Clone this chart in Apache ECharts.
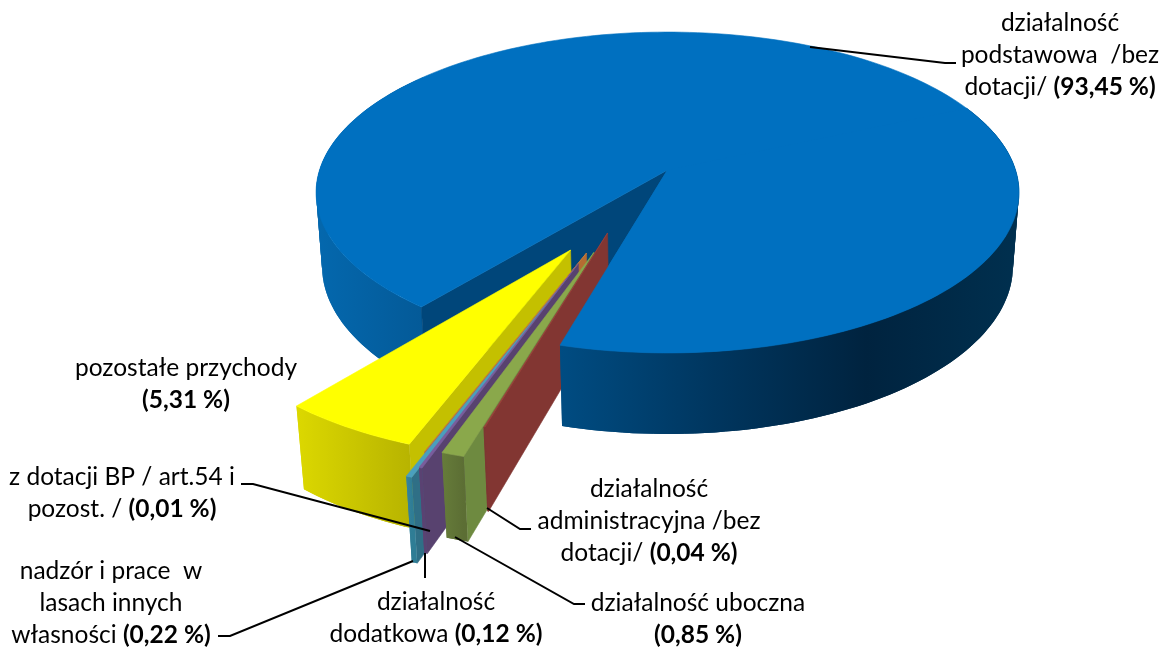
<!DOCTYPE html>
<html>
<head>
<meta charset="utf-8">
<style>html,body{margin:0;padding:0;background:#fff}#c{width:1165px;height:647px}</style>
<script src="https://cdn.jsdelivr.net/npm/echarts@6/dist/echarts.min.js"></script>
</head>
<body>
<div id="c"></div>
<script>
// ---- data (clockwise from the front cut) ----
var categories = [
  'działalność administracyjna /bez dotacji/',
  'działalność uboczna',
  'działalność dodatkowa',
  'nadzór i prace w lasach innych własności',
  'z dotacji BP / art.54 i pozost. /',
  'pozostałe przychody',
  'działalność podstawowa /bez dotacji/'
];
var shares = [0.04, 0.85, 0.12, 0.22, 0.01, 5.31, 93.45];

// ---- label text ----
var labelLines = [
  ['działalność', 'administracyjna /bez', '{n|dotacji/ }{b|(0,04 %)}'],
  ['działalność uboczna', '{b|(0,85 %)}'],
  ['działalność', 'dodatkowa {b|(0,12 %)}'],
  ['nadzór i prace  w', 'lasach innych', 'własności {b|(0,22 %)}'],
  ['z dotacji BP / art.54 i', 'pozost. / {b|(0,01 %)}'],
  ['pozostałe przychody', '{b|(5,31 %)}'],
  ['działalność', 'podstawowa  /bez', 'dotacji/ {b|(93,45 %)}']
];

// ---- layout & styling ----
var cam = {cx: 667.5, cy: 170, F: 2213, D: 6.36, sin: 0.452, cos: 0.892, h: 0.239};
var startAngle = 15.5;
var explode = [[-0.163,0.379],[-0.197,0.488],[-0.2366,0.55],[-0.249,0.589],[-0.2167,0.4915],[-0.26,0.475],[0,0]];
var radii = [0.987, 1, 1, 1, 1, 0.985, 1];
var faces = [
  {top:'#9a3f3a', wall:'#7f3532', cut:'#823632'},
  {top:'#8aa84b', wall:['#667c3a','#5c6e34'], cut:'#6e8a40'},
  {top:'#7a5c9c', wall:['#5a4272','#5a4272'], cut:'#58426f'},
  {top:'#4a9fbd', wall:['#37839d','#2f7d95'], cut:'#2f6f86'},
  {top:'#c9803c', wall:['#b8702f','#b8702f'], cut:'#b56c32'},
  {top:'#ffff00', wall:['#dcd800','#b8b400'], cut:'#c4c000'},
  {top:'#0070c0', cut:'#00467a'}
];
var labelPos = [[649,473],[698,587],[436,586],[111,555],[122,461],[186,352],[1060,7]];
var leaders = [
  [[487,508],[520,529],[531,529]],
  [[455,537],[574,604],[585,604]],
  [[425,553],[425,578]],
  [[413,561],[230,636],[218,636]],
  [[430,531],[253,484],[241,484]],
  [[810,47],[945,63],[956,63]]
];
var FONT = 'Lato, Carlito, "Open Sans", sans-serif';
var FONT_SIZE = 24.5;

// ---- geometry ----
function project(X, Y, Z) {
  var v = Y * cam.sin - Z * cam.cos, w = Y * cam.cos + Z * cam.sin;
  var s = cam.F / (cam.D - w);
  return [cam.cx + X * s, cam.cy + v * s];
}
var rad = Math.PI / 180;
var total = shares.reduce(function (a, b) { return a + b; }, 0);
var spans = [], acc = startAngle;
shares.forEach(function (v) { var d = v / total * 360; spans.push([acc, acc + d]); acc += d; });

function rim(i, a, Z) { var o = explode[i], r = radii[i]; return project(o[0] - r * Math.sin(a * rad), o[1] + r * Math.cos(a * rad), Z); }
function apex(i, Z) { var o = explode[i]; return project(o[0], o[1], Z); }
function arc(i, a1, a2, Z) {
  var n = Math.max(2, Math.ceil(Math.abs(a2 - a1) / 1.5)), pts = [];
  for (var k = 0; k <= n; k++) pts.push(rim(i, a1 + (a2 - a1) * k / n, Z));
  return pts;
}
function poly(points, fill) {
  var solid = typeof fill === 'string';
  return {type: 'polygon', shape: {points: points},
    style: {fill: fill, stroke: solid ? fill : null, lineWidth: solid ? 0.6 : 0}};
}
function grad(x1, x2, stops) {
  return {type: 'linear', x: x1, y: 0, x2: x2, y2: 0, global: true,
    colorStops: stops.map(function (c, i) { return {offset: i / (stops.length - 1), color: c}; })};
}
// Wall built from overlapping strips, so that the side silhouette stays straight and no seams show.
function wall(i, a1, a2, fill) {
  var t = arc(i, a1, a2, 0), b = arc(i, a1, a2, -cam.h), out = [], last = t.length - 1;
  for (var k = 0; k < last; k++) {
    var e = Math.min(k + 2, last), pts = [];
    for (var m = k; m <= e; m++) pts.push(t[m]);
    for (var m2 = e; m2 >= k; m2--) pts.push(b[m2]);
    out.push(poly(pts, fill));
  }
  return out;
}
function sector(i, a1, a2, fill) { return poly([apex(i, 0)].concat(arc(i, a1, a2, 0)), fill); }
function cut(i, a, fill) {
  return poly([apex(i, 0), rim(i, a, 0), rim(i, a, -cam.h), apex(i, -cam.h)], fill);
}

function drawSlice(i) {
  var a1 = spans[i][0], a2 = spans[i][1], f = faces[i];
  var wx1 = rim(i, a2, 0)[0], wx2 = rim(i, a1, 0)[0];
  var wf = Array.isArray(f.wall) ? grad(wx1, wx2, f.wall) : f.wall;
  return [cut(i, a1, f.cut)].concat(wall(i, a1, a2, wf), [sector(i, a1, a2, f.top)]);
}
var B = shares.length - 1;
function drawBlueBack() {
  var a1 = spans[B][0], a2 = spans[B][1], f = faces[B];
  return wall(B, 130, a1, grad(315, 421, ['#0468ae', '#045a98']))
    .concat([cut(B, a1, f.cut), sector(B, a1, a2, f.top)]);
}
function drawBlueFront() {
  var a0 = startAngle, f = faces[B];
  return wall(B, a0 - 130, a0, grad(560, 1020, ['#004c82', '#00365f', '#00233f', '#00304f']))
    .concat([sector(B, a0 - 130, a0, f.top)]);
}

// ---- draw order: back of the big slice, cut slices left to right, front of the big slice ----
var drawList = ['back', 5, 4, 3, 2, 1, 0, 'front'];
var textStyleRich = {
  n: {fontFamily: FONT, fontSize: FONT_SIZE, lineHeight: 32, fill: '#000'},
  b: {fontFamily: FONT, fontSize: FONT_SIZE, lineHeight: 32, fontWeight: 'bold', fill: '#000'}
};

var option = {
  animation: false,
  backgroundColor: '#fff',
  series: [
    {
      type: 'custom', coordinateSystem: 'none', silent: true,
      data: drawList.map(function (d, i) { return {value: [i], name: typeof d === 'number' ? categories[d] : categories[B]}; }),
      renderItem: function (p, api) {
        var d = drawList[api.value(0)];
        var kids = d === 'back' ? drawBlueBack() : d === 'front' ? drawBlueFront() : drawSlice(d);
        return {type: 'group', children: kids};
      }
    },
    {
      type: 'custom', coordinateSystem: 'none', silent: true, z: 3,
      data: leaders.map(function (l, i) { return [i]; }),
      renderItem: function (p, api) {
        return {type: 'polyline', shape: {points: leaders[api.value(0)]},
          style: {stroke: '#000', lineWidth: 2, fill: null}};
      }
    },
    {
      type: 'custom', coordinateSystem: 'none', silent: true, z: 4,
      data: labelLines.map(function (l, i) { return [i]; }),
      renderItem: function (p, api) {
        var i = api.value(0);
        return {type: 'text', x: labelPos[i][0], y: labelPos[i][1],
          style: {text: labelLines[i].join('\n'), align: 'center', verticalAlign: 'top',
            fontFamily: FONT, fontSize: FONT_SIZE, lineHeight: 32, fill: '#000', rich: textStyleRich}};
      }
    }
  ]
};
echarts.init(document.getElementById('c'), null, {renderer: 'canvas'}).setOption(option);
</script>
</body>
</html>
